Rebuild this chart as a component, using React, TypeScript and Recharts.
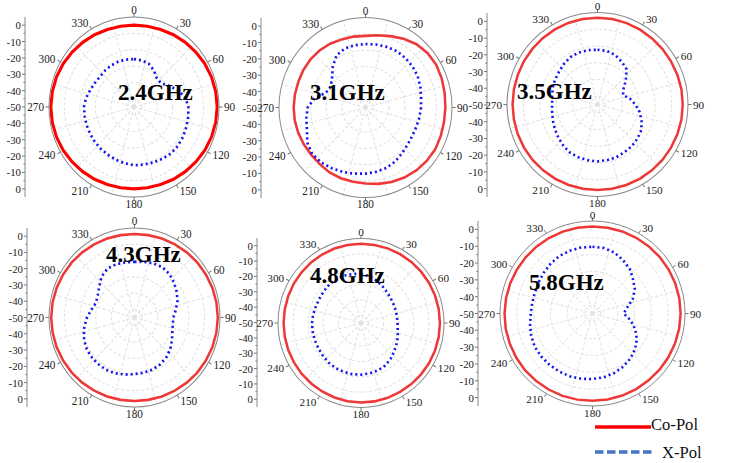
import React from "react";
import {
  RadarChart,
  Radar,
  PolarGrid,
  PolarAngleAxis,
  PolarRadiusAxis,
  LineChart,
  Line,
  XAxis,
  YAxis,
} from "recharts";

// angle categories (deg, clockwise from top)
const angles = [
  0, 10, 20, 30, 40, 50, 60, 70, 80, 90, 100, 110, 120, 130, 140, 150, 160, 170,
  180, 190, 200, 210, 220, 230, 240, 250, 260, 270, 280, 290, 300, 310, 320, 330, 340, 350,
];
const labelEvery = 30;
const gridSpokes = [15, 45, 75, 105, 135, 165, 195, 225, 255, 285, 315, 345];
const gridLevels = [-45, -35, -25, -15, -5];
const radiusDomain = [-50, 5];
const axisTicks = [
  -50, -45, -40, -35, -30, -25, -20, -15, -10, -5, 0, 5, 10, 15, 20, 25, 30, 35, 40, 45, 50,
];

const freqLabels = ["2.4GHz", "3.1GHz", "3.5GHz", "4.3GHz", "4.8GHz", "5.8GHz"];
const legendNames = ["Co-Pol", "X-Pol"];

// 2.4 GHz
const co24 = [
  0, 0.1, 0.4, 1, 1.6, 2.2, 2.9, 3.4, 3.7, 3.8, 3.7, 3.4,
  2.9, 2.2, 1.6, 1, 0.4, 0.1, 0, 0.1, 0.4, 1, 1.6, 2.2,
  2.9, 3.4, 3.7, 3.8, 3.7, 3.4, 2.9, 2.2, 1.6, 1, 0.4, 0.1,
];
const xp24 = [
  -20.7, -21.1, -21.9, -24.2, -27, -27.3, -24, -19.7, -16.4, -14.8, -14.4, -14,
  -13.4, -13, -12.9, -13.4, -13.9, -14.2, -14.4, -15.1, -15.7, -16.3, -16.6, -16.9,
  -17.2, -17.4, -17.6, -17.6, -18.5, -19.8, -20.7, -21.2, -20.9, -20.6, -20.5, -20.6,
];
// 3.1 GHz
const co31 = [
  -6.2, -5.2, -3.6, -1.5, 0.5, 1.6, 2, 1.6, 1.1, 0.8, 0.7, 0.9,
  1.2, 0.8, 0.2, -0.6, -1.5, -2.6, -3.6, -3.9, -4, -4.2, -4.8, -5,
  -4.8, -4.5, -4.3, -4.3, -4.4, -4.5, -4.3, -4.3, -4.5, -5, -5.7, -6,
];
const xp31 = [
  -11.2, -10.9, -10.6, -10.2, -10.5, -11, -11.7, -12.9, -14.1, -14.7, -15.2, -15.6,
  -15.6, -14.9, -13.7, -12, -10.8, -10.1, -9.6, -8.9, -8.1, -7.1, -6.2, -5.8,
  -7.2, -10.4, -11.8, -13.2, -17.2, -23.3, -24.4, -22.2, -17.6, -13.2, -11.6, -11.3,
];
// 3.5 GHz
const co35 = [
  1.9, 1.9, 1.8, 1.7, 1.6, 1.6, 1.6, 1.7, 1.8, 1.8, 1.8, 1.7,
  1.6, 1.5, 1.4, 1.3, 1.2, 1.1, 1.1, 1.1, 1.2, 1.3, 1.4, 1.5,
  1.6, 1.6, 1.6, 1.6, 1.6, 1.6, 1.7, 1.7, 1.8, 1.8, 1.9, 1.9,
];
const xp35 = [
  -17.3, -17.5, -18.5, -20.5, -22.5, -27.5, -31.8, -33.5, -30, -27, -24, -21.5,
  -19.3, -18.3, -17.5, -17.1, -16.5, -16.2, -16, -16.2, -16.4, -16.7, -17.8, -19,
  -20.2, -21.2, -22, -22.4, -22, -21, -20.2, -19.5, -18.3, -17.2, -16.9, -17,
];
// 4.3 GHz
const co43 = [
  1.3, 1.4, 1.6, 1.9, 2.3, 2.7, 3, 3.3, 3.5, 3.6, 3.5, 3.3,
  3, 2.7, 2.3, 1.9, 1.6, 1.4, 1.3, 1.4, 1.6, 1.9, 2.3, 2.7,
  3, 3.3, 3.5, 3.6, 3.5, 3.3, 3, 2.7, 2.3, 1.9, 1.6, 1.4,
];
const xp43 = [
  -15.8, -15.2, -14.6, -14.2, -15.1, -16.8, -18.6, -20.6, -23, -25, -25, -24.1,
  -22.2, -19.9, -18.1, -16.8, -16, -15.6, -15.2, -14.4, -13.5, -13, -13, -13.2,
  -13.8, -15.3, -17.2, -19.4, -21.9, -23.6, -22.7, -20.4, -17.1, -15.3, -15.2, -15.6,
];
// 4.8 GHz
const co48 = [
  1.6, 1.6, 1.7, 1.8, 1.9, 2.0, 2.1, 2.2, 2.3, 2.3, 2.3, 2.2,
  2.1, 2.0, 1.9, 1.8, 1.8, 1.8, 1.8, 1.7, 1.6, 1.5, 1.4, 1.4,
  1.3, 1.3, 1.3, 1.3, 1.3, 1.3, 1.4, 1.4, 1.5, 1.5, 1.6, 1.6,
];
const xp48 = [
  -18, -19, -20.5, -22, -23.5, -24.5, -25.2, -25.6, -25.8, -25.8, -25.3, -24,
  -22.8, -21.3, -19.5, -18, -17.2, -16.7, -16.4, -16.2, -16.2, -16.2, -16.5, -17,
  -17.3, -17.4, -17.5, -17.5, -17.8, -18.2, -18.2, -17.8, -17.3, -17.1, -17.2, -17.6,
];
// 5.8 GHz
const co58 = [
  1.8, 1.8, 1.9, 2.0, 2.1, 2.2, 2.3, 2.4, 2.4, 2.4, 2.3, 2.2,
  2.1, 2.0, 1.9, 1.9, 1.9, 1.9, 1.9, 2.0, 2.1, 2.2, 2.3, 2.4,
  2.4, 2.4, 2.4, 2.3, 2.2, 2.1, 2.0, 1.9, 1.9, 1.8, 1.8, 1.8,
];
const xp58 = [
  -10.3, -10.5, -11.5, -13.5, -15.5, -18.5, -21, -24.5, -29, -31.5, -27, -23,
  -19.5, -17, -15, -13.5, -12.3, -11.5, -11, -10.6, -10.3, -10.2, -10.2, -10.2,
  -10.4, -11.2, -12.3, -13.3, -13.6, -13.5, -13, -12.2, -11.3, -10.6, -10.3, -10.2,
];

const SERIF = "'Liberation Serif', 'Times New Roman', serif";

type Panel = {
  label: string;
  co: number[];
  xp: number[];
  cx: number;
  cy: number;
  rh: number; // horizontal radius of the outer ring
  rv: number; // vertical radius (the source figure is slightly stretched)
  axisX: number;
  tx: number;
  ty: number;
  coColor: string;
  coWidth: number;
};

const panels: Panel[] = [
  { label: freqLabels[0], co: co24, xp: xp24, cx: 133.5, cy: 106.5, rh: 85, rv: 90, axisX: 25, tx: 118, ty: 100, coColor: "#ff0000", coWidth: 3 },
  { label: freqLabels[1], co: co31, xp: xp31, cx: 365.5, cy: 107.5, rh: 86.5, rv: 90, axisX: 261, tx: 310, ty: 100, coColor: "#ee3838", coWidth: 2.5 },
  { label: freqLabels[2], co: co35, xp: xp35, cx: 597.5, cy: 104.5, rh: 90.5, rv: 92, axisX: 487, tx: 517, ty: 99, coColor: "#ee3838", coWidth: 2.5 },
  { label: freqLabels[3], co: co43, xp: xp43, cx: 134.5, cy: 317.5, rh: 85.5, rv: 89.5, axisX: 27, tx: 106, ty: 262, coColor: "#ee3838", coWidth: 2.5 },
  { label: freqLabels[4], co: co48, xp: xp48, cx: 360.5, cy: 322.5, rh: 83, rv: 84.5, axisX: 257, tx: 310, ty: 283, coColor: "#ee3838", coWidth: 2.5 },
  { label: freqLabels[5], co: co58, xp: xp58, cx: 592.5, cy: 313.5, rh: 92.5, rv: 92.5, axisX: 478, tx: 529, ty: 290, coColor: "#ee3838", coWidth: 2.5 },
];

function PolarPanel({ p }: { p: Panel }) {
  const R = p.rh;
  const W = 2 * R + 90;
  const H = 2 * R + 44;
  const c = W / 2;
  const m = H / 2;
  const data = angles.map((a, i) => ({ angle: a, co: p.co[i], xp: p.xp[i] }));
  const rOf = (db: number) => ((db - radiusDomain[0]) / (radiusDomain[1] - radiusDomain[0])) * R;

  const angleTick = (props: any) => {
    const a = Number(props.payload.value);
    if (a % labelEvery !== 0) return <g />;
    const t = (a * Math.PI) / 180;
    const ux = Math.sin(t);
    const uy = -Math.cos(t);
    const d = R + 5 + 1.5 * Math.abs(uy);
    const anchor = ux > 0.1 ? "start" : ux < -0.1 ? "end" : "middle";
    return (
      <g>
        <line x1={c + R * ux} y1={m + R * uy} x2={c + (R + 3.5) * ux} y2={m + (R + 3.5) * uy} stroke="#777" />
        <text
          x={c + d * ux}
          y={m + d * uy}
          textAnchor={anchor}
          dominantBaseline="central"
          fontSize={11.2}
          fontFamily={SERIF}
          fill="#222"
        >
          {a}
        </text>
      </g>
    );
  };

  return (
    <div
      style={{
        position: "absolute",
        left: p.cx - c,
        top: p.cy - m,
        transform: `scaleY(${p.rv / p.rh})`,
        transformOrigin: `${c}px ${m}px`,
      }}
    >
      <RadarChart
        width={W}
        height={H}
        data={data}
        cx="50%"
        cy="50%"
        outerRadius={R}
        margin={{ top: 0, right: 0, bottom: 0, left: 0 }}
      >
        <PolarGrid
          gridType="circle"
          polarAngles={gridSpokes}
          polarRadius={gridLevels.map(rOf)}
          innerRadius={rOf(gridLevels[0])}
          stroke="#e0e0e0"
          strokeDasharray="3 2"
        />
        <PolarAngleAxis
          dataKey="angle"
          tick={angleTick}
          tickLine={false}
          axisLineType="circle"
          stroke="#888"
        />
        <PolarRadiusAxis domain={radiusDomain} tick={false} axisLine={false} />
        <Radar
          name={legendNames[0]}
          dataKey="co"
          stroke={p.coColor}
          strokeWidth={p.coWidth}
          fill="none"
          fillOpacity={0}
          dot={false}
          isAnimationActive={false}
        />
        <Radar
          name={legendNames[1]}
          dataKey="xp"
          stroke="#1414f0"
          strokeWidth={2.6}
          strokeDasharray="2 3"
          fill="none"
          fillOpacity={0}
          dot={false}
          isAnimationActive={false}
        />
      </RadarChart>
    </div>
  );
}

function LeftAxis({ p }: { p: Panel }) {
  const pad = 6;
  const H = 2 * p.rv + 2 * pad;
  const data = axisTicks.map((v) => ({ v }));
  const axisTick = (props: any) => {
    const { x, y, payload } = props;
    const v = Number(payload.value);
    const major = v % 10 === 0;
    return (
      <g>
        <line x1={x - (major ? 3 : 1.6)} x2={x} y1={y} y2={y} stroke="#777" />
        {major && (
          <text
            x={x - 4}
            y={y}
            textAnchor="end"
            dominantBaseline="central"
            fontSize={10.8}
            fontFamily={SERIF}
            fill="#222"
          >
            {Math.abs(v) - 50}
          </text>
        )}
      </g>
    );
  };
  return (
    <div style={{ position: "absolute", left: p.axisX - 40, top: p.cy - p.rv - pad }}>
      <LineChart width={46} height={H} data={data} margin={{ top: pad, bottom: pad, left: 0, right: 6 }}>
        <XAxis hide />
        <YAxis
          type="number"
          domain={[-55, 55]}
          allowDataOverflow
          ticks={axisTicks}
          interval={0}
          width={40}
          tick={axisTick}
          tickLine={false}
          tickSize={0}
          tickMargin={0}
          axisLine={{ stroke: "#888" }}
        />
        <Line dataKey="v" stroke="none" dot={false} activeDot={false} isAnimationActive={false} />
      </LineChart>
    </div>
  );
}

export default function App() {
  return (
    <div style={{ position: "absolute", left: 0, top: 0, width: 732, height: 463, background: "#fff", overflow: "hidden" }}>
      {panels.map((p, i) => (
        <LeftAxis key={"a" + i} p={p} />
      ))}
      {panels.map((p, i) => (
        <PolarPanel key={"p" + i} p={p} />
      ))}
      <svg width={732} height={463} style={{ position: "absolute", left: 0, top: 0, pointerEvents: "none" }}>
        {panels.map((p, i) => (
          <text key={i} x={p.tx} y={p.ty} fontSize={23} fontWeight="bold" fontFamily={SERIF} fill="#000">
            {p.label}
          </text>
        ))}
        <line x1={595} y1={427} x2={651} y2={427} stroke="#ff0000" strokeWidth={3.5} />
        <text x={651} y={429.5} fontSize={16.6} fontFamily={SERIF} fill="#111">
          {legendNames[0]}
        </text>
        <line x1={595} y1={452} x2={652} y2={452} stroke="#4472c4" strokeWidth={3.5} strokeDasharray="8.5 3.5" />
        <text x={662} y={458.3} fontSize={16.6} fontFamily={SERIF} fill="#111">
          {legendNames[1]}
        </text>
      </svg>
    </div>
  );
}
